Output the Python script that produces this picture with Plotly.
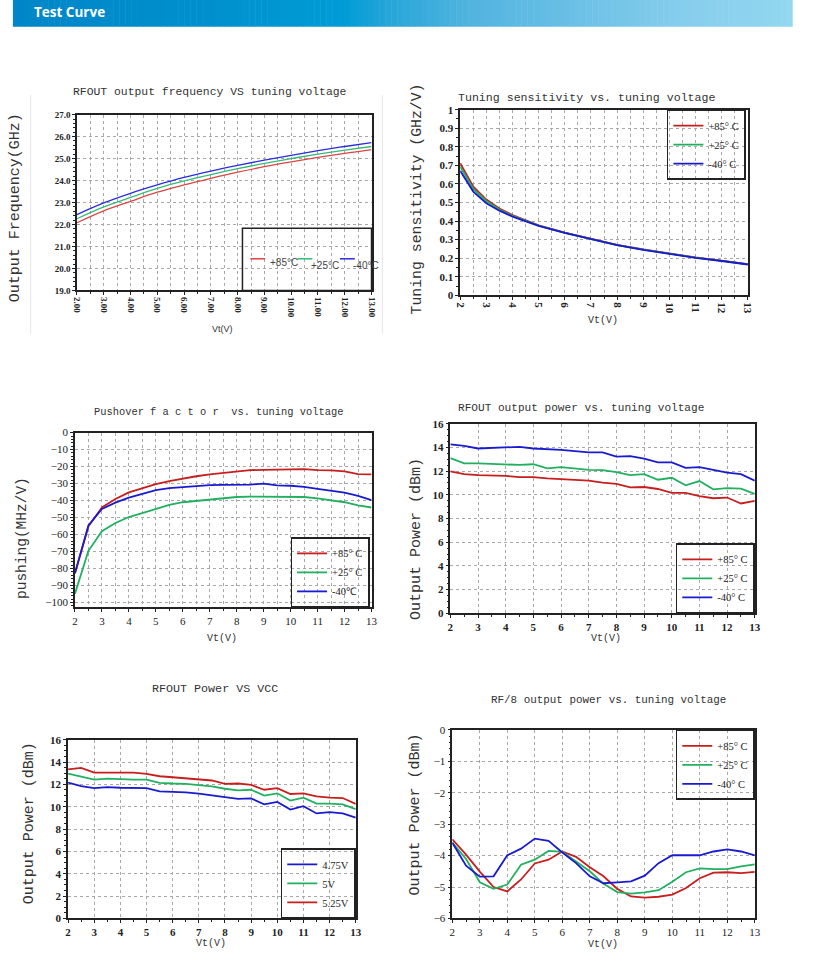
import plotly.graph_objects as go

# The page adds an 8 px body margin, so the figure is 16 px smaller than the window.
OFF = 8
W, H = 829 - 2 * OFF, 976 - 2 * OFF

def fx(px):
    return (px - OFF) / W

def fy(py):
    return 1 - (py - OFF) / H

# ---------------- DATA ----------------
vt_int = [2, 3, 4, 5, 6, 7, 8, 9, 10, 11, 12, 13]
vt_half = [2, 2.5, 3, 3.5, 4, 4.5, 5, 5.5, 6, 6.5, 7, 7.5, 8, 8.5, 9, 9.5, 10, 10.5, 11, 11.5, 12, 12.5, 13]

# Plot 1: output frequency (GHz)
freq_p85 = [22.08, 22.62, 23.05, 23.47, 23.80, 24.10, 24.38, 24.63, 24.85, 25.05, 25.24, 25.41]
freq_p25 = [22.26, 22.80, 23.23, 23.64, 23.98, 24.27, 24.54, 24.78, 25.00, 25.20, 25.38, 25.55]
freq_m40 = [22.45, 22.98, 23.42, 23.80, 24.14, 24.43, 24.69, 24.93, 25.15, 25.36, 25.55, 25.73]

# Plot 2: tuning sensitivity (GHz/V)
sens_vt = [2, 2.5, 3, 3.5, 4, 5, 6, 7, 8, 9, 10, 11, 12, 13]
sens_p85 = [0.712, 0.585, 0.516, 0.468, 0.432, 0.377, 0.338, 0.303, 0.272, 0.247, 0.224, 0.204, 0.187, 0.168]
sens_p25 = [0.694, 0.573, 0.508, 0.462, 0.428, 0.376, 0.337, 0.302, 0.271, 0.246, 0.223, 0.203, 0.186, 0.167]
sens_m40 = [0.671, 0.559, 0.496, 0.456, 0.424, 0.374, 0.336, 0.301, 0.270, 0.245, 0.222, 0.202, 0.185, 0.166]

# Plot 3: pushing (MHz/V)
push_p85 = [-82.8, -55.1, -44.1, -39.1, -35.2, -32.9, -30.4, -28.6, -27.1, -25.7, -24.6, -23.8, -23.2,
            -22.1, -21.9, -21.9, -21.9, -21.5, -22.1, -22.2, -22.8, -24.4, -24.6]
push_p25 = [-94.8, -69.6, -58.0, -53.2, -49.7, -47.4, -44.9, -42.6, -41.0, -40.2, -39.5, -38.9, -37.9,
            -37.7, -37.7, -37.9, -37.9, -37.9, -38.7, -39.8, -41.0, -42.9, -44.1]
push_m40 = [-82.8, -54.7, -44.9, -41.2, -38.3, -36.0, -33.8, -32.7, -32.1, -31.5, -30.9, -30.8, -30.8,
            -30.6, -30.0, -31.1, -31.3, -31.9, -33.1, -34.4, -35.4, -37.3, -39.7]

# Plot 4: RFOUT output power (dBm)
pout_p85 = [11.97, 11.74, 11.66, 11.66, 11.60, 11.49, 11.49, 11.38, 11.32, 11.30, 11.19, 11.02, 10.93,
            10.63, 10.66, 10.49, 10.16, 10.16, 9.88, 9.71, 9.77, 9.27, 9.49]
pout_p25 = [13.10, 12.66, 12.66, 12.63, 12.58, 12.52, 12.58, 12.24, 12.33, 12.21, 12.10, 12.08, 11.91,
            11.66, 11.74, 11.27, 11.44, 10.80, 11.16, 10.46, 10.57, 10.52, 10.07]
pout_m40 = [14.25, 14.13, 13.91, 13.97, 13.97, 14.05, 13.91, 13.88, 13.80, 13.69, 13.58, 13.58, 13.22,
            13.27, 13.05, 12.74, 12.74, 12.27, 12.33, 12.10, 11.88, 11.74, 11.19]

# Plot 5: RFOUT power vs VCC (dBm)
vcc_475 = [12.17, 11.85, 11.67, 11.76, 11.70, 11.67, 11.67, 11.37, 11.34, 11.28, 11.17, 11.05, 10.87,
           10.70, 10.75, 10.22, 10.43, 9.75, 10.05, 9.40, 9.52, 9.40, 9.02]
vcc_500 = [12.97, 12.70, 12.43, 12.52, 12.46, 12.43, 12.43, 12.14, 12.08, 12.05, 11.93, 11.82, 11.61,
           11.46, 11.52, 10.99, 11.20, 10.55, 10.81, 10.28, 10.28, 10.22, 9.78]
vcc_525 = [13.35, 13.47, 13.05, 13.05, 13.02, 13.05, 12.94, 12.73, 12.64, 12.55, 12.43, 12.35, 12.05,
           12.08, 11.96, 11.52, 11.67, 11.14, 11.20, 10.93, 10.81, 10.78, 10.25]

# Plot 6: RF/8 output power (dBm)
div_p85 = [-3.48, -3.97, -4.51, -5.00, -5.14, -4.76, -4.25, -4.13, -3.87, -4.04, -4.37, -4.66, -5.06,
           -5.30, -5.34, -5.31, -5.24, -5.03, -4.72, -4.54, -4.53, -4.56, -4.52]
div_p25 = [-3.59, -4.11, -4.85, -5.06, -4.92, -4.29, -4.13, -3.85, -3.88, -4.20, -4.50, -4.90, -5.16,
           -5.21, -5.17, -5.10, -4.83, -4.53, -4.41, -4.43, -4.43, -4.34, -4.28]
div_m40 = [-3.59, -4.32, -4.67, -4.66, -3.99, -3.78, -3.46, -3.53, -3.90, -4.24, -4.66, -4.88, -4.85,
           -4.82, -4.64, -4.24, -3.99, -3.99, -3.99, -3.87, -3.80, -3.87, -3.99]

freq_ticks = [2, 3, 4, 5, 6, 7, 8, 9, 10, 11, 12, 13]
freq_ticktext = ["2.00", "3.00", "4.00", "5.00", "6.00", "7.00", "8.00", "9.00", "10.00", "11.00", "12.00", "13.00"]
sens_yticks = [0, 0.1, 0.2, 0.3, 0.4, 0.5, 0.6, 0.7, 0.8, 0.9, 1]
sens_yticktext = ["0", "0.1", "0.2", "0.3", "0.4", "0.5", "0.6", "0.7", "0.8", "0.9", "1"]
freq_legend = ["+85°C", "+25°C", "-40°C"]

# ---------------- STYLE ----------------
RED, GREEN, BLUE = "#c81e1e", "#20b060", "#1a1ad0"
RED1, GREEN1, BLUE1 = "#dd4444", "#33bb77", "#2a2ae0"
GRID = "#a8a8a8"
TXT = "#333333"
MONO = "Liberation Mono"
SERIF = "Liberation Serif"

fig = go.Figure()

def add(x, y, name, color, xa, ya, legend, width=1.8, shape="linear", show=True):
    fig.add_trace(go.Scatter(x=x, y=y, name=name, mode="lines", showlegend=show,
                             line=dict(color=color, width=width, shape=shape),
                             xaxis=xa, yaxis=ya, legend=legend))

add(vt_int, freq_p85, freq_legend[0], RED1, "x", "y", "legend", 1.3, "spline", False)
add(vt_int, freq_p25, freq_legend[1], GREEN1, "x", "y", "legend", 1.3, "spline", False)
add(vt_int, freq_m40, freq_legend[2], BLUE1, "x", "y", "legend", 1.3, "spline", False)

add(sens_vt, sens_p85, "+85° C", RED, "x2", "y2", "legend2")
add(sens_vt, sens_p25, "+25° C", GREEN, "x2", "y2", "legend2")
add(sens_vt, sens_m40, "-40° C", BLUE, "x2", "y2", "legend2")

add(vt_half, push_p85, "+85° C", RED, "x3", "y3", "legend3")
add(vt_half, push_p25, "+25° C", GREEN, "x3", "y3", "legend3")
add(vt_half, push_m40, "-40℃", BLUE, "x3", "y3", "legend3")

add(vt_half, pout_p85, "+85° C", RED, "x4", "y4", "legend4")
add(vt_half, pout_p25, "+25° C", GREEN, "x4", "y4", "legend4")
add(vt_half, pout_m40, "-40° C", BLUE, "x4", "y4", "legend4")

add(vt_half, vcc_475, "4.75V", BLUE, "x5", "y5", "legend5")
add(vt_half, vcc_500, "5V", GREEN, "x5", "y5", "legend5")
add(vt_half, vcc_525, "5.25V", RED, "x5", "y5", "legend5")

add(vt_half, div_p85, "+85° C", RED, "x6", "y6", "legend6")
add(vt_half, div_p25, "+25° C", GREEN, "x6", "y6", "legend6")
add(vt_half, div_m40, "-40° C", BLUE, "x6", "y6", "legend6")


def axis(domain, rng, anchor, size=11, bold=True, **kw):
    d = dict(domain=domain, range=rng, anchor=anchor, showline=True, linecolor="#222",
             linewidth=1.5, mirror=True, showgrid=True, gridcolor=GRID, griddash="dot",
             gridwidth=1, zeroline=False, ticks="outside", ticklen=3, tickcolor="#222",
             tickfont=dict(family=SERIF, size=size, color="#222",
                           weight="bold" if bold else "normal"))
    d.update(kw)
    return d


def minor(dtick, grid=False, ticklen=2):
    return dict(dtick=dtick, showgrid=grid, gridcolor=GRID, griddash="dot", ticks="outside",
                ticklen=ticklen, tickcolor="#222")

layout = dict(
    width=W, height=H, autosize=False, margin=dict(l=0, r=0, t=0, b=0),
    paper_bgcolor="white", plot_bgcolor="white", showlegend=True,
    xaxis=axis([fx(80), fx(379)], [2, 13], "y", size=9, tickvals=freq_ticks, ticktext=freq_ticktext,
               tickangle=90, minor=minor(0.5, True)),
    yaxis=axis([fy(296), fy(118)], [19, 27], "x", size=9, dtick=1, tickformat=".1f",
               minor=minor(0.2, False, 2)),
    xaxis2=axis([fx(469), fx(761)], [2, 13], "y2", size=11, dtick=1, tickangle=90,
                minor=minor(0.5, True)),
    yaxis2=axis([fy(301), fy(113)], [0, 1], "x2", size=11, tickvals=sens_yticks,
                ticktext=sens_yticktext, minor=minor(0.05, False, 2)),
    xaxis3=axis([fx(78), fx(379)], [2, 13], "y3", size=11, bold=False, dtick=1,
                minor=minor(0.5, True)),
    yaxis3=axis([fy(617), fy(440)], [-102.9, 0], "x3", size=11, bold=False, dtick=10,
                minor=minor(2, False, 2)),
    xaxis4=axis([fx(459), fx(768)], [2, 13], "y4", size=11, dtick=1, minor=minor(0.5, False)),
    yaxis4=axis([fy(623), fy(431)], [0, 16], "x4", size=11, dtick=2, minor=minor(0.5, False, 2)),
    xaxis5=axis([fx(71), fx(363)], [2, 13], "y5", size=11, dtick=1, minor=minor(0.5, False)),
    yaxis5=axis([fy(932), fy(751)], [0, 16], "x5", size=11, dtick=2, minor=minor(0.5, False, 2)),
    xaxis6=axis([fx(461), fx(768)], [2, 13], "y6", size=11, bold=False, dtick=1,
                minor=minor(0.5, False)),
    yaxis6=axis([fy(932), fy(741)], [-6, 0], "x6", size=11, bold=False, dtick=1,
                minor=minor(0.2, False, 2)),
)

leg_common = dict(bgcolor="rgba(0,0,0,0)", bordercolor="#222", borderwidth=1.5,
                  font=dict(family=SERIF, size=10.5, color="#222"), itemwidth=30,
                  tracegroupgap=0, itemclick=False)
layout["legend2"] = dict(leg_common, x=fx(759), y=fy(113), xanchor="right", yanchor="top")
layout["legend3"] = dict(leg_common, x=fx(377), y=fy(617), xanchor="right", yanchor="bottom")
layout["legend4"] = dict(leg_common, x=fx(768), y=fy(623), xanchor="right", yanchor="bottom")
layout["legend5"] = dict(leg_common, x=fx(363), y=fy(932), xanchor="right", yanchor="bottom")
layout["legend6"] = dict(leg_common, x=fx(768), y=fy(741), xanchor="right", yanchor="top")

fig.update_layout(**layout)

shapes = []
# banner gradient (decoration)
stops = [(15, (0, 134, 200)), (200, (0, 143, 205)), (350, (0, 156, 214)), (400, (40, 166, 217)),
         (480, (82, 180, 223)), (600, (110, 194, 231)), (700, (135, 206, 236)), (806, (147, 215, 240))]

def col_at(px):
    for (a, ca), (b, cb) in zip(stops[:-1], stops[1:]):
        if a <= px <= b:
            t = (px - a) / (b - a)
            return "rgb(%d,%d,%d)" % tuple(round(ca[i] + (cb[i] - ca[i]) * t) for i in range(3))
    return "rgb(%d,%d,%d)" % stops[-1][1]

step = 6
px = 15
while px < 806:
    x1 = min(px + step, 806)
    shapes.append(dict(type="rect", xref="paper", yref="paper", x0=fx(px), x1=fx(x1 + 0.5),
                       y0=fy(29), y1=fy(0), fillcolor=col_at(px + step / 2), line=dict(width=0),
                       layer="below"))
    px = x1

# plot 1 legend box + swatches (legend drawn by hand to fit its small box)
shapes.append(dict(type="rect", xref="paper", yref="paper", x0=fx(248), x1=fx(379), y0=fy(296),
                   y1=fy(233), line=dict(color="#222", width=1.5), fillcolor="rgba(0,0,0,0)"))
ann = []
leg1 = [(256, 271, 274, 268, RED1), (304, 319, 316, 271, GREEN1), (347, 362, 358, 271, BLUE1)]
for (sx0, sx1, tx, ty, c), name in zip(leg1, freq_legend):
    shapes.append(dict(type="line", xref="paper", yref="paper", x0=fx(sx0), x1=fx(sx1),
                       y0=fy(264), y1=fy(264), line=dict(color=c, width=1.5)))
    ann.append(dict(text=name, x=fx(tx), y=fy(ty), xref="paper", yref="paper", xanchor="left",
                    yanchor="middle", showarrow=False,
                    font=dict(family="Liberation Sans", size=10, color="#444")))

# faint image borders around first chart
for xx in (33, 390):
    shapes.append(dict(type="line", xref="paper", yref="paper", x0=fx(xx), x1=fx(xx), y0=fy(340),
                       y1=fy(98), line=dict(color="#e6e6e6", width=1)))
fig.update_layout(shapes=shapes)

ann.append(dict(text="<b>Test Curve</b>", x=fx(34), y=fy(14), xref="paper", yref="paper",
                xanchor="left", yanchor="middle", showarrow=False,
                font=dict(family="Open Sans", size=13.5, color="white")))

titles = [
    (215, 95, "RFOUT output frequency VS tuning voltage", 11.4),
    (597, 101, "Tuning sensitivity vs. tuning voltage", 11.6),
    (224, 419, "Pushover f a c t o r  vs. tuning voltage", 10.4),
    (592, 415, "RFOUT output power vs. tuning voltage", 11.1),
    (220, 700, "RFOUT Power VS VCC", 11.7),
    (620, 711, "RF/8 output power vs. tuning voltage", 10.9),
]
for x, y, t, s in titles:
    ann.append(dict(text=t, x=fx(x), y=fy(y), xref="paper", yref="paper", xanchor="center",
                    yanchor="middle", showarrow=False, font=dict(family=MONO, size=s, color=TXT)))

ytitles = [
    (18, 212, "Output Frequency(GHz)", 15),
    (425, 203, "Tuning sensitivity (GHz/V)", 14.8),
    (24, 547, "pushing(MHz/V)", 14.5),
    (424, 548, "Output Power (dBm)", 15),
    (32, 836, "Output Power (dBm)", 15),
    (424, 827, "Output Power (dBm)", 15),
]
for x, y, t, s in ytitles:
    ann.append(dict(text=t, x=fx(x), y=fy(y), xref="paper", yref="paper", xanchor="center",
                    yanchor="middle", textangle=-90, showarrow=False,
                    font=dict(family=MONO, size=s, color=TXT)))

xtitles = [
    (228, 335, "Vt(V)", "Liberation Sans", 9),
    (614, 326, "Vt(V)", MONO, 10),
    (227, 648, "Vt(V)", MONO, 10),
    (617, 648, "Vt(V)", MONO, 10),
    (216, 957, "Vt(V)", MONO, 10),
    (614, 958, "Vt(V)", MONO, 10),
]
for x, y, t, f, s in xtitles:
    ann.append(dict(text=t, x=fx(x), y=fy(y), xref="paper", yref="paper", xanchor="center",
                    yanchor="middle", showarrow=False, font=dict(family=f, size=s, color=TXT)))

fig.update_layout(annotations=ann)

fig.write_html("out.html")
